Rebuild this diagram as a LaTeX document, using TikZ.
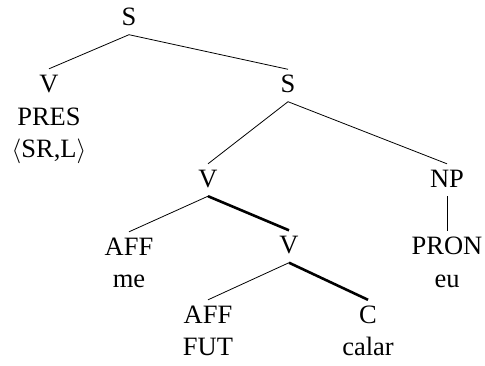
\documentclass[tikz,border=0pt]{standalone}
\usepackage{fontspec}
\setmainfont{Liberation Serif}
\usetikzlibrary{positioning}
\tikzset{
  catnode/.style={anchor=base, font=\fontsize{26.5bp}{32bp}\selectfont, text height=17bp, text depth=3bp, inner xsep=2pt, inner ysep=6bp},
  wordnode/.style={anchor=base, font=\fontsize{26.5bp}{32bp}\selectfont, inner sep=0pt},
  branchln/.style={line width=0.8pt},
  headln/.style={line width=2.6pt},
}

\begin{document}
\begin{tikzpicture}[x=1bp, y=-1bp]
    \useasboundingbox (0,0) rectangle (485,365);

    % categories
    \node[catnode] (s0) at (129,25.5) {S};
    \node[catnode] (vpres) at (49,92) {V};
    \node[catnode] (s1) at (288,92.5) {S};
    \node[catnode] (v1) at (208,187) {V};
    \node[catnode] (np) at (447,187) {NP};
    \node[catnode] (affme) at (129,255) {AFF};
    \node[catnode] (v2) at (289,253.5) {V};
    \node[catnode] (pron) at (447,254) {PRON};
    \node[catnode] (afffut) at (208,323) {AFF};
    \node[catnode] (cverb) at (368,323) {C};

    % words and features
    \node[wordnode] (pres) at (49,125) {PRES};
    \node[wordnode] (srl) at (49,157) {$\langle$SR,L$\rangle$};
    \node[wordnode] (me) at (129,287) {me};
    \node[wordnode] (eu) at (447,287) {eu};
    \node[wordnode] (fut) at (208,355) {FUT};
    \node[wordnode] (calar) at (368,355) {calar};

    % branches
    \draw[branchln] (s0.south) -- (vpres.north);
    \draw[branchln] (s0.south) -- (s1.north);
    \draw[branchln] (s1.south) -- (v1.north);
    \draw[branchln] (s1.south) -- (np.north);
    \draw[branchln] (np.south) -- (pron.north);
    \draw[branchln] (v1.south) -- (affme.north);
    \draw[headln] (v1.south) -- (v2.north);
    \draw[branchln] (v2.south) -- (afffut.north);
    \draw[headln] (v2.south) -- (cverb.north);
\end{tikzpicture}
\end{document}
